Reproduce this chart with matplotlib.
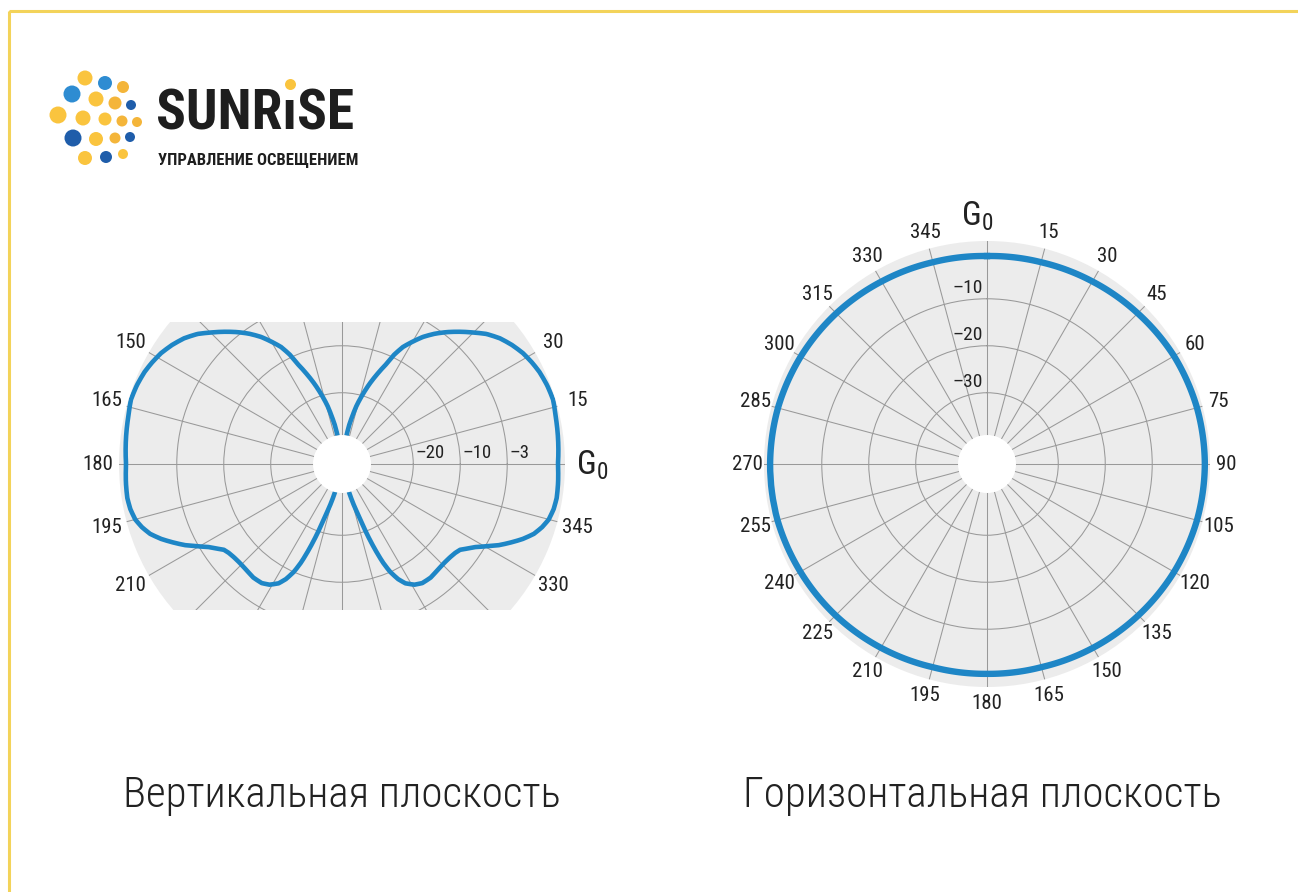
import numpy as np
import matplotlib
matplotlib.use('Agg')
import matplotlib.pyplot as plt
from matplotlib import font_manager as fm
from matplotlib.patches import Rectangle

W, H = 1298, 892

# ── data ──────────────────────────────────────────────────────────────────────
# vertical plane: right lobe (deg ccw from G0 axis) and gain (dB); left lobe is its mirror
VERT_ANGLE = [-76, -74, -72, -70.5, -69, -67.5, -66, -64, -62, -59, -56, -52, -48, -44,
              -41, -38.5, -36, -34, -32, -30, -27.5, -25, -22.5, -20, -17.5, -15, -12,
              -9, -5, 0, 6, 12, 17, 21, 25, 28, 31.5, 35, 38.5, 42, 45, 48, 51.5, 54.5,
              57.5, 60, 62.5, 64.5, 66, 68.5, 71, 73.5, 76, 78, 79.5, 81]
VERT_GAIN = [-39.0, -36.2, -33.5, -29.6, -26.0, -22.6, -20.1, -17.9, -16.4, -15.2, -14.6,
             -14.5, -14.8, -14.9, -14.8, -14.6, -14.1, -13.0, -11.8, -10.1, -7.7, -5.6,
             -3.5, -1.7, -0.5, 0.4, 0.9, 1.1, 1.0, 0.8, 1.1, 1.4, 1.8, 1.6, 1.2, 0.7,
             0.0, -1.0, -2.2, -3.8, -5.6, -7.3, -9.3, -11.1, -13.1, -15.1, -17.1, -19.4,
             -21.8, -24.5, -27.1, -29.8, -32.4, -35.0, -36.7, -39.0]

# horizontal plane (deg clockwise from G0 axis)
HORIZ_ANGLE = [0, 15, 30, 45, 60, 75, 90, 105, 120, 135, 150, 165,
               180, 195, 210, 225, 240, 255, 270, 285, 300, 315, 330, 345]
HORIZ_GAIN = [-0.9, -0.7, -0.3, 0.2, 0.8, 1.1, 1.2, 1.1, 0.8, 0.4, 0.0, -0.4,
              -0.5, -0.4, 0.0, 0.4, 0.7, 1.0, 1.0, 0.9, 0.6, 0.2, -0.3, -0.7]

THETA_TICKS = [0, 15, 30, 45, 60, 75, 90, 105, 120, 135, 150, 165,
               180, 195, 210, 225, 240, 255, 270, 285, 300, 315, 330, 345]
VERT_SHOWN = [15, 30, 150, 165, 180, 195, 210, 330, 345]
HORIZ_SHOWN = THETA_TICKS[1:]

RINGS = [-30, -20, -10]
VERT_RING_LABELS = ['–20', '–10', '–3']
HORIZ_RING_LABELS = ['–30', '–20', '–10']

TITLES = ['Вертикальная плоскость', 'Горизонтальная плоскость']

# logo dots (pixel position, diameter, colour)
LOGO_X = [85, 105, 123, 72, 96, 115, 131, 58, 83, 105, 122, 137, 73, 96, 115, 130, 85, 106, 123]
LOGO_Y = [78, 83, 87, 94, 99, 103, 105, 115, 118, 119, 121, 122, 138, 139, 138, 137, 158, 157, 154]
LOGO_D = [15, 14, 12, 17, 15, 13, 10, 17, 15, 13, 11, 10, 17, 14, 11, 10, 14, 12, 10]
YEL, ORA, BLU, DBL = '#FAC43E', '#F4B53A', '#2E8CD2', '#1F5DAA'
LOGO_C = [YEL, BLU, ORA, BLU, YEL, ORA, DBL, YEL, YEL, YEL, ORA, ORA,
          DBL, YEL, ORA, DBL, YEL, DBL, YEL]

# ── style ─────────────────────────────────────────────────────────────────────
BLUE = '#1E86C6'
DISC = '#ECECEC'
GRID = '#999999'
INK = '#222222'
BORDER = '#F3D35A'

R_MIN, R_MAX, R_ORIGIN = -39.0, 2.3, -45.17
R_PX = 223


def pick_font():
    entries = fm.fontManager.ttflist
    names = {f.name for f in entries}
    for fam in ('Roboto Condensed', 'Liberation Sans Narrow', 'Open Sans Condensed',
                'Noto Sans Condensed', 'DejaVu Sans Condensed'):
        if fam in names:
            return fam, 'normal'
    for fam in ('DejaVu Sans', 'Noto Sans', 'Open Sans', 'Roboto'):
        if any(f.name == fam and str(f.stretch) == 'condensed' for f in entries):
            return fam, 'condensed'
    return 'DejaVu Sans', 'normal'


FONT, STRETCH = pick_font()
TXT = dict(family=FONT, fontstretch=STRETCH, color=INK)

fig = plt.figure(figsize=(W / 100, H / 100), dpi=100)
fig.patch.set_facecolor('white')


def make_polar(cx, cy, zero, direction, shown, pad):
    ax = fig.add_axes([(cx - R_PX) / W, (H - cy - R_PX) / H, 2 * R_PX / W, 2 * R_PX / H],
                      projection='polar')
    ax.set_theta_zero_location(zero)
    ax.set_theta_direction(direction)
    ax.set_facecolor(DISC)
    for sp in ax.spines.values():
        sp.set_edgecolor('none')
    labels = [str(a) if a in shown else '' for a in THETA_TICKS]
    ax.set_thetagrids(THETA_TICKS, labels, fontsize=15, **TXT)
    ax.set_yticks(RINGS)
    ax.set_yticklabels([])
    ax.grid(True, color=GRID, linewidth=0.75)
    ax.tick_params(axis='both', length=0)
    ax.tick_params(axis='x', pad=pad)
    return ax


def smooth(line):
    # draw segments along the polar grid (arcs / spirals) instead of chords
    line.get_path()._interpolation_steps = 20


# ── vertical plane ────────────────────────────────────────────────────────────
ax_v = make_polar(342, 464, 'E', 1, VERT_SHOWN, 8)
ang = np.array(VERT_ANGLE, dtype=float)
for a in (ang, 180 - ang):
    ln, = ax_v.plot(np.deg2rad(a), VERT_GAIN, color=BLUE, lw=3.3,
                    solid_capstyle='round', solid_joinstyle='round')
    smooth(ln)
ax_v.set_ylim(R_MIN, R_MAX)
ax_v.set_rorigin(R_ORIGIN)
for r, lab in zip(RINGS, VERT_RING_LABELS):
    ax_v.annotate(lab, xy=(0, r), xytext=(1.5, 1.5), textcoords='offset points',
                  ha='left', va='bottom', fontsize=13.5, annotation_clip=False, **TXT)
ax_v.annotate(r'$\mathregular{G_0}$', xy=(0, R_MAX), xytext=(8, -1), textcoords='offset points',
              ha='left', va='center', fontsize=24, annotation_clip=False, **TXT)

# ── horizontal plane ──────────────────────────────────────────────────────────
ax_h = make_polar(987, 464, 'N', -1, HORIZ_SHOWN, 5)
th = np.deg2rad(HORIZ_ANGLE + [360])
ln, = ax_h.plot(th, HORIZ_GAIN + HORIZ_GAIN[:1], color=BLUE, lw=4.6)
smooth(ln)
ax_h.set_ylim(R_MIN, R_MAX)
ax_h.set_rorigin(R_ORIGIN)
for r, lab in zip(RINGS, HORIZ_RING_LABELS):
    ax_h.annotate(lab, xy=(0, r), xytext=(-3, 1.5), textcoords='offset points',
                  ha='right', va='bottom', fontsize=14, annotation_clip=False, **TXT)
ax_h.annotate(r'$\mathregular{G_0}$', xy=(0, R_MAX), xytext=(-7, 6), textcoords='offset points',
              ha='center', va='bottom', fontsize=24, annotation_clip=False, **TXT)

# ── overlay: border, mask for truncated vertical plot, titles, logo ──────────
ax_o = fig.add_axes([0, 0, 1, 1])
ax_o.set_xlim(0, W)
ax_o.set_ylim(H, 0)
ax_o.axis('off')
ax_o.set_zorder(3)

ax_o.add_patch(Rectangle((9, 11), W + 100, H + 100, facecolor='none',
                         edgecolor=BORDER, lw=2.2))
ax_o.add_patch(Rectangle((100, 200), 500, 122, facecolor='white', edgecolor='none'))
ax_o.add_patch(Rectangle((100, 610), 500, 100, facecolor='white', edgecolor='none'))

ax_o.text(342, 796, TITLES[0], ha='center', va='center', fontsize=31, weight='light', **TXT)
ax_o.text(982, 796, TITLES[1], ha='center', va='center', fontsize=31, weight='light', **TXT)

ax_o.scatter(LOGO_X, LOGO_Y, s=(np.array(LOGO_D) * 0.72) ** 2, c=LOGO_C, linewidths=0)

logo_fs = 40
ax_o.text(156, 130, 'SUNRıSE', ha='left', va='baseline', fontsize=logo_fs,
          weight='bold', family=FONT, fontstretch=STRETCH, color='#1E1E1E')
renderer = fig.canvas.get_renderer()
inv = ax_o.transData.inverted()
ext = []
for s in ('SUNR', 'SUNRı'):
    t = ax_o.text(156, 130, s, ha='left', va='baseline', fontsize=logo_fs,
                  weight='bold', family=FONT, fontstretch=STRETCH)
    bb = t.get_window_extent(renderer)
    ext.append(inv.transform((bb.x1, bb.y0))[0])
    t.remove()
dot_x = (ext[0] + ext[1]) / 2
cap_h = 0.72 * logo_fs * 100 / 72
ax_o.scatter([dot_x], [130 - cap_h - 6], s=(11 * 0.72) ** 2, c=YEL, linewidths=0)

ax_o.text(158, 165, 'УПРАВЛЕНИЕ ОСВЕЩЕНИЕМ', ha='left', va='baseline', fontsize=12,
          weight='bold', family=FONT, fontstretch=STRETCH, color='#1E1E1E')

fig.savefig('out.png', dpi=100, facecolor='white')
